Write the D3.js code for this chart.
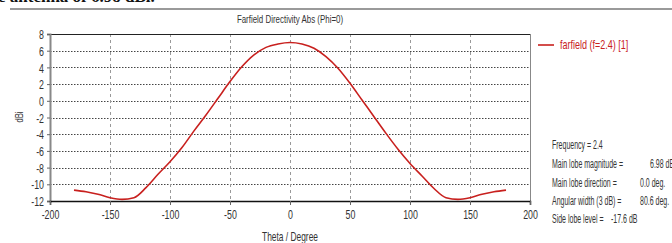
<!DOCTYPE html>
<html><head><meta charset="utf-8">
<script src="https://cdn.jsdelivr.net/npm/d3@7/dist/d3.min.js"></script>
<style>body{margin:0;background:#fff}svg{display:block}</style>
</head><body>
<script>
const theta = [-180,-170,-160,-150,-140,-130,-120,-110,-100,-90,-80,-70,-60,-50,-40,-30,-20,-10,0,10,20,30,40,50,60,70,80,90,100,110,120,130,140,150,160,170,180];
const directivity = [-10.7,-10.9,-11.2,-11.6,-11.8,-11.6,-10.4,-8.8,-7.3,-5.6,-3.6,-1.7,0.3,2.3,4.1,5.5,6.4,6.8,6.98,6.8,6.3,5.3,3.9,2.1,0.1,-1.9,-3.9,-5.8,-7.5,-9.0,-10.5,-11.6,-11.8,-11.6,-11.2,-10.9,-10.7];
const xTicks = [-200,-150,-100,-50,0,50,100,150,200];
const yTicks = [-12,-10,-8,-6,-4,-2,0,2,4,6,8];
const title = "Farfield Directivity Abs (Phi=0)";
const legendLabel = "farfield (f=2.4) [1]";
const infoLabels = ["Frequency = 2.4","Main lobe magnitude =","Main lobe direction =","Angular width (3 dB) =","Side lobe level ="];
const infoValues = ["","6.98 dBi","0.0 deg.","80.6 deg.","-17.6 dB"];

const W=672,H=243;
const svg=d3.select("body").append("svg").attr("width",W).attr("height",H);
const FONT="'Liberation Sans',Arial,sans-serif";
const RED="#c8201e";
const L=50,R=530,T=34,B=201;
const x=d3.scaleLinear().domain([-200,200]).range([L,R]);
const y=d3.scaleLinear().domain([-12,8]).range([B,T]);

function txt(px,py,s,opt){
  opt=opt||{};
  const sx=opt.sx||0.68;
  return svg.append("text")
    .attr("transform",`translate(${px},${py}) scale(${sx},1)`)
    .attr("text-anchor",opt.anchor||"start")
    .attr("font-family",opt.family||FONT)
    .attr("font-size",opt.size||12)
    .attr("font-weight",opt.weight||"normal")
    .attr("fill",opt.fill||"#333")
    .text(s);
}

// cut-off caption text at top and rule
txt(-2,1.5,"e antenna of 6.98 dBi.",{sx:1,size:17,weight:"bold",family:"'Liberation Serif','Times New Roman',serif",fill:"#111"});
svg.append("line").attr("x1",10).attr("x2",W).attr("y1",9).attr("y2",9).attr("stroke","#9a9a9a").attr("stroke-width",2);

// title
txt(290,23,title,{anchor:"middle",size:11,sx:0.72,fill:"#333"});

// grid
svg.append("g").selectAll("line").data(yTicks.filter(d=>d>-12&&d<8)).join("line")
  .attr("x1",L).attr("x2",R).attr("y1",d=>Math.round(y(d))+0.5).attr("y2",d=>Math.round(y(d))+0.5)
  .attr("stroke","#444").attr("stroke-width",1).attr("stroke-dasharray","1.5,1.5");
svg.append("g").selectAll("line").data(xTicks.filter(d=>d>-200&&d<200)).join("line")
  .attr("x1",d=>Math.round(x(d))+0.5).attr("x2",d=>Math.round(x(d))+0.5).attr("y1",T).attr("y2",B)
  .attr("stroke","#999").attr("stroke-width",1).attr("stroke-dasharray","3,3");

// frame
svg.append("line").attr("x1",L).attr("x2",R).attr("y1",T+0.5).attr("y2",T+0.5).attr("stroke","#222").attr("stroke-width",1);
svg.append("line").attr("x1",R+0.5).attr("x2",R+0.5).attr("y1",T).attr("y2",B).attr("stroke","#888").attr("stroke-width",1);

// axes
const gy=svg.append("g").attr("transform",`translate(${L},0)`).call(d3.axisLeft(y).tickValues(yTicks).tickSize(3).tickPadding(2));
gy.select(".domain").attr("stroke","#888").attr("stroke-width",2);
gy.selectAll(".tick line").attr("stroke","#666");
gy.selectAll(".tick text").attr("font-family",FONT).attr("font-size",13).attr("fill","#333")
  .attr("x",-6/0.68).attr("transform","scale(0.68,1)").attr("dy","0.36em").text(d=>d<0?"-"+Math.abs(d):d);

const gx=svg.append("g").attr("transform",`translate(0,${B})`).call(d3.axisBottom(x).tickValues(xTicks).tickSize(4).tickPadding(5));
gx.select(".domain").attr("stroke","#111").attr("stroke-width",1.5);
gx.selectAll(".tick line").attr("stroke","#666");
gx.selectAll(".tick text").attr("font-family",FONT).attr("font-size",13).attr("fill","#333")
  .attr("transform","scale(0.68,1)").text(d=>d<0?"-"+Math.abs(d):d);

// axis titles
txt(290,241,"Theta / Degree",{anchor:"middle",size:12,sx:0.7});
svg.append("text").attr("transform","translate(23,117) rotate(-90) scale(0.7,1)")
  .attr("text-anchor","middle").attr("font-family",FONT).attr("font-size",11).attr("fill","#333").text("dBi");

// curve
const line=d3.line().x((d,i)=>x(theta[i])).y(d=>y(d)).curve(d3.curveMonotoneX);
svg.append("path").datum(directivity).attr("d",line).attr("fill","none").attr("stroke",RED).attr("stroke-width",1.6);

// legend
svg.append("line").attr("x1",538).attr("x2",554).attr("y1",45).attr("y2",45).attr("stroke",RED).attr("stroke-width",1.6);
txt(560,49,legendLabel,{size:12.5,sx:0.72,fill:RED});

// info
const infoY=[149,168,187,205,223];
infoLabels.forEach((s,i)=>txt(552,infoY[i],s,{size:12.5,sx:0.56}));
const valX=[0,650,640,640,611];
infoValues.forEach((s,i)=>{ if(s) txt(valX[i],infoY[i],s,{size:12.5,sx:0.56}); });
</script>
</body></html>
